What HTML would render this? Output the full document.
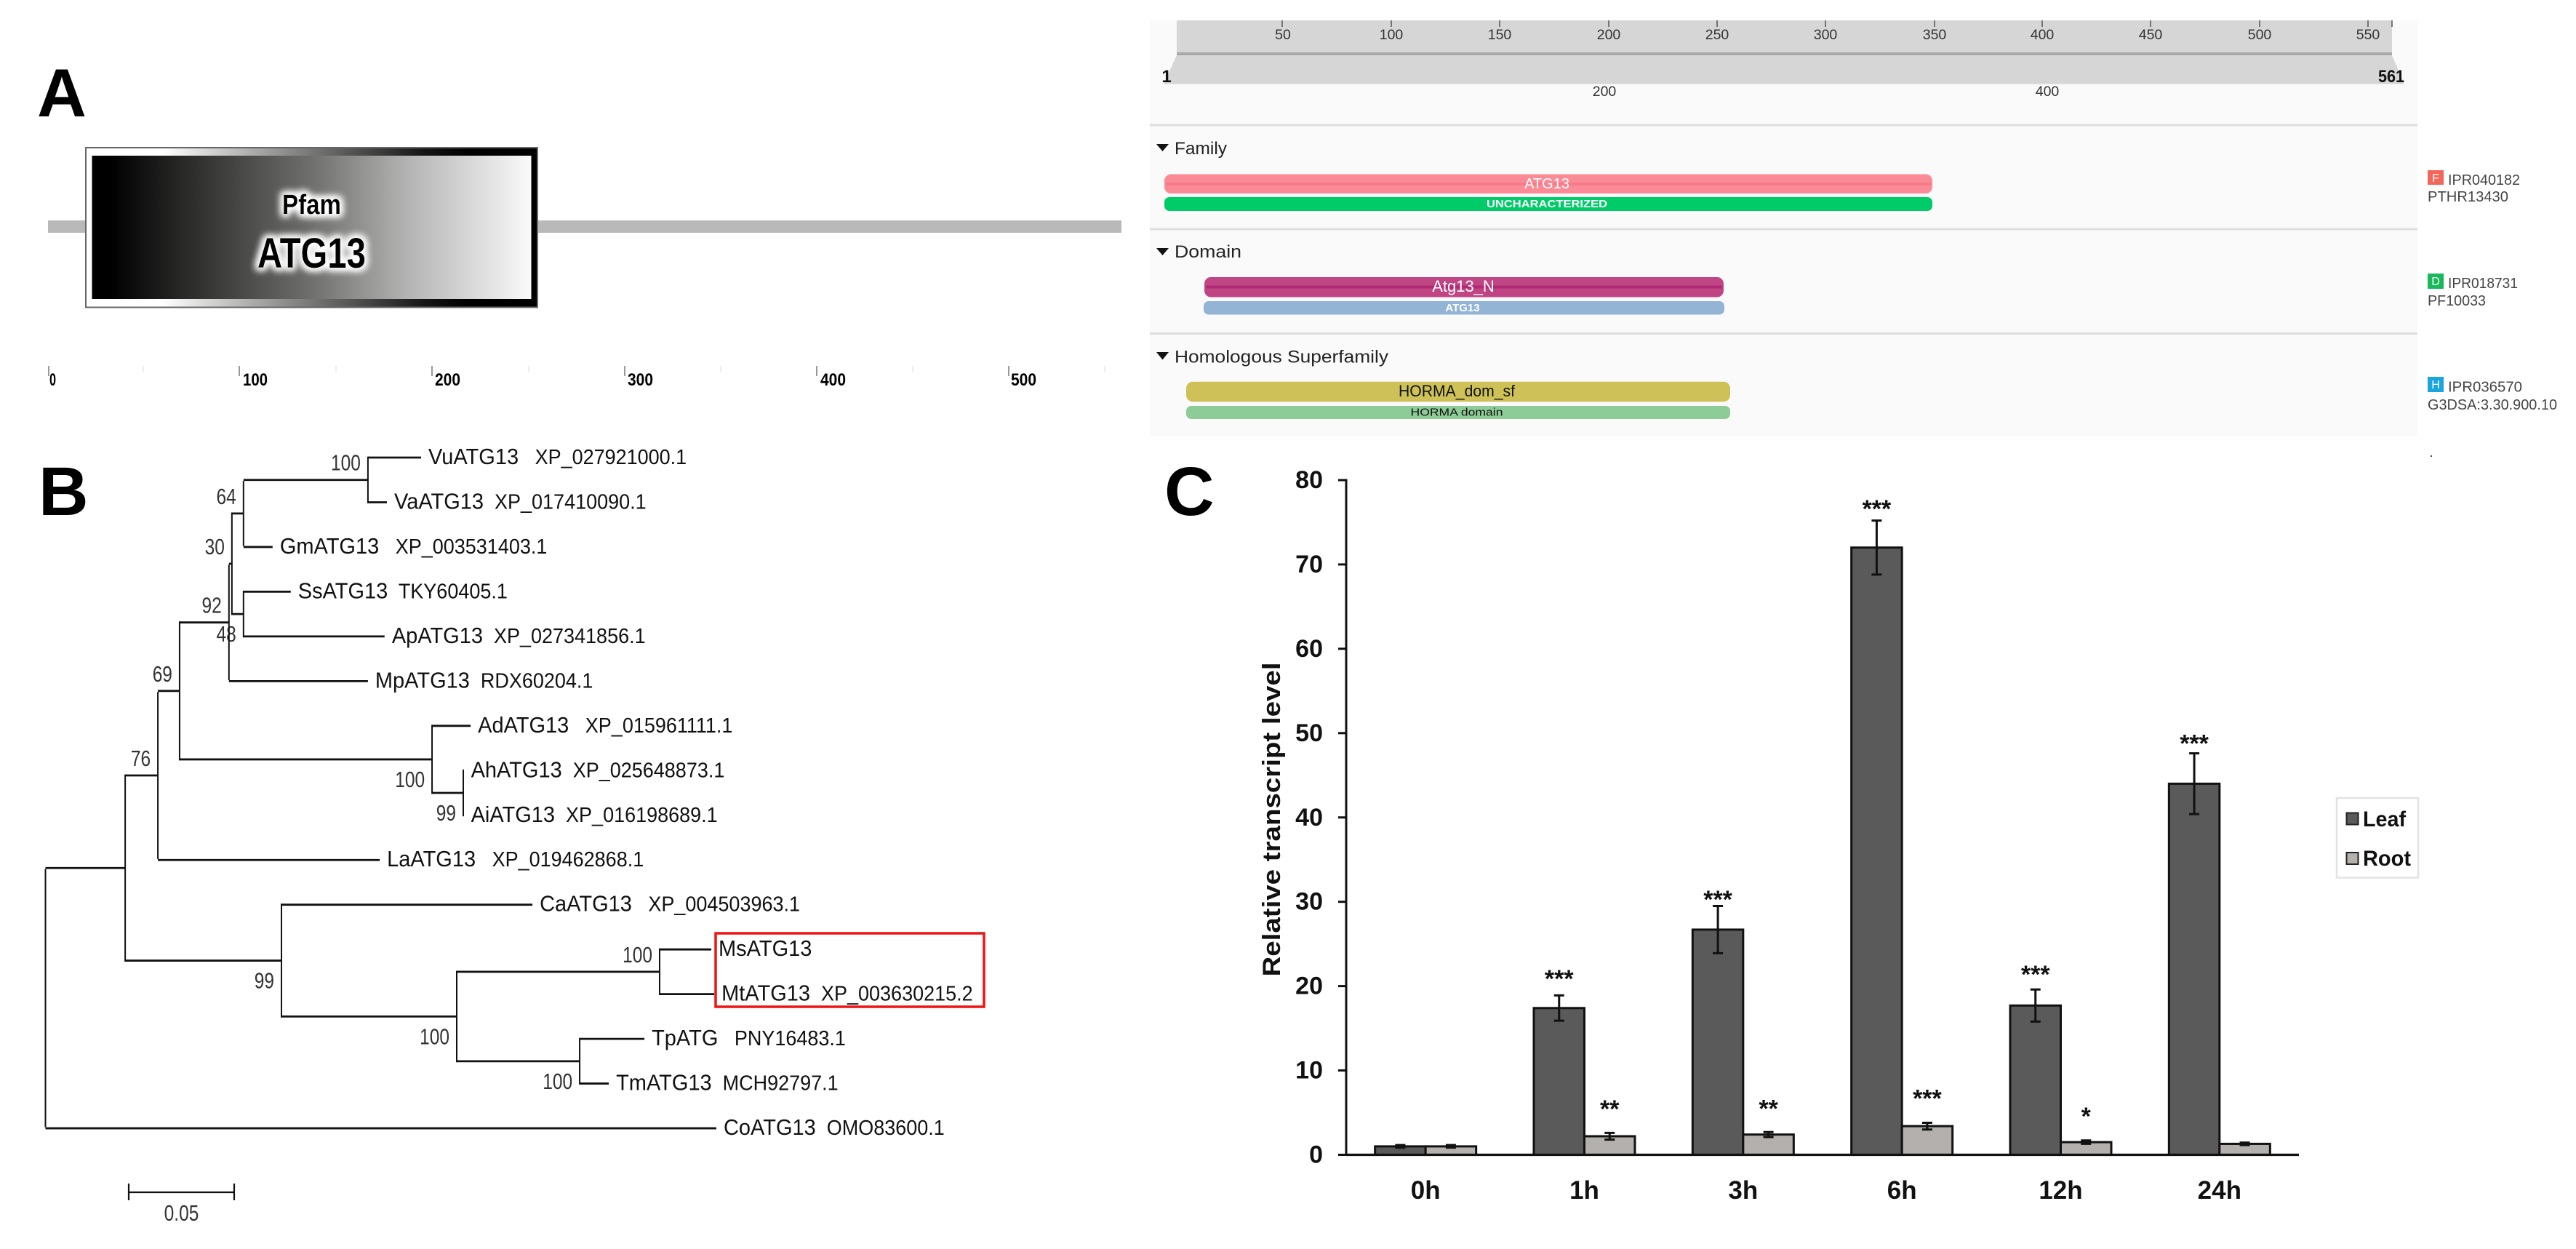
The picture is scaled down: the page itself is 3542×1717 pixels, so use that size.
<!DOCTYPE html>
<html lang="en">
<head>
<meta charset="utf-8">
<title>ATG13 domain structure, phylogeny and expression</title>
<style>
html,body{margin:0;padding:0;background:#fff;width:3542px;height:1717px;overflow:hidden}
svg{display:block}
text{font-family:"Liberation Sans",Arial,sans-serif}
.b{font-weight:bold}
.ipr{fill:#444;font-size:20px}
.rul{fill:#333;font-size:19.5px;text-anchor:middle}
.sec{fill:#222;font-size:24px}
.bt{fill:#fff;text-anchor:middle}
.bk{fill:#111;text-anchor:middle}
</style>
</head>
<body>
<svg xmlns="http://www.w3.org/2000/svg" width="3542" height="1717" viewBox="0 0 3542 1717">
<defs>
<linearGradient id="innerGrad" x1="0" x2="1" y1="0" y2="0">
<stop offset="0" stop-color="#000"/><stop offset="0.04" stop-color="#000"/><stop offset="0.5" stop-color="#6f6f6d"/><stop offset="0.72" stop-color="#b4b4b4"/><stop offset="1" stop-color="#fafafa"/>
</linearGradient>
<linearGradient id="frameGrad" x1="0" x2="1" y1="0" y2="0">
<stop offset="0" stop-color="#fff"/><stop offset="0.17" stop-color="#fff"/><stop offset="0.45" stop-color="#8a8a8a"/><stop offset="0.75" stop-color="#151515"/><stop offset="0.85" stop-color="#000"/><stop offset="1" stop-color="#000"/>
</linearGradient>
<filter id="glow" x="-30%" y="-50%" width="160%" height="200%">
<feMorphology in="SourceAlpha" operator="dilate" radius="3" result="d"/>
<feGaussianBlur in="d" stdDeviation="5" result="bl"/>
<feFlood flood-color="#fff"/>
<feComposite in2="bl" operator="in" result="w"/>
<feMerge><feMergeNode in="w"/><feMergeNode in="w"/><feMergeNode in="SourceGraphic"/></feMerge>
</filter>
</defs>

<text class="b" x="51" y="160" font-size="94" fill="#000">A</text>
<text class="b" x="53" y="708" font-size="95" fill="#000">B</text>
<text class="b" x="1601" y="708" font-size="95" fill="#000">C</text>

<!-- Panel A left: Pfam domain diagram -->
<g>
<rect x="66" y="303" width="1476" height="17" fill="#b9b9b9"/>
<rect x="118" y="203" width="621" height="219.5" fill="url(#frameGrad)" stroke="#666" stroke-width="2"/>
<rect x="126.5" y="214" width="604" height="197" fill="url(#innerGrad)"/>
<text class="b" x="388" y="294" font-size="38" textLength="81" lengthAdjust="spacingAndGlyphs" filter="url(#glow)" fill="#000">Pfam</text>
<text class="b" x="354" y="368" font-size="58" textLength="149" lengthAdjust="spacingAndGlyphs" filter="url(#glow)" fill="#000">ATG13</text>
<g stroke="#777" stroke-width="1.5">
<line x1="67" x2="67" y1="503" y2="517"/><line x1="329" x2="329" y1="503" y2="517"/><line x1="594" x2="594" y1="503" y2="517"/><line x1="859" x2="859" y1="503" y2="517"/><line x1="1123" x2="1123" y1="503" y2="517"/><line x1="1387" x2="1387" y1="503" y2="517"/>
</g>
<g stroke="#e6e6e6" stroke-width="1.5">
<line x1="197" x2="197" y1="503" y2="511"/><line x1="462" x2="462" y1="503" y2="511"/><line x1="727" x2="727" y1="503" y2="511"/><line x1="991" x2="991" y1="503" y2="511"/><line x1="1255" x2="1255" y1="503" y2="511"/><line x1="1519" x2="1519" y1="503" y2="511"/>
</g>
<g font-size="24" fill="#000" class="b">
<text x="68" y="530" textLength="9" lengthAdjust="spacingAndGlyphs">0</text>
<text x="334" y="530" textLength="34" lengthAdjust="spacingAndGlyphs">100</text>
<text x="598" y="530" textLength="35" lengthAdjust="spacingAndGlyphs">200</text>
<text x="863" y="530" textLength="35" lengthAdjust="spacingAndGlyphs">300</text>
<text x="1128" y="530" textLength="35" lengthAdjust="spacingAndGlyphs">400</text>
<text x="1390" y="530" textLength="35" lengthAdjust="spacingAndGlyphs">500</text>
</g>
</g>

<!-- Panel A right: InterPro view -->
<g>
<rect x="1581" y="28" width="1743" height="572" fill="#fafafa"/>
<rect x="1618" y="28" width="1671" height="45" fill="#d6d6d6"/>
<rect x="1618" y="72" width="1671" height="4" fill="#a9a9a9"/>
<polygon points="1618,76 3289,76 3306,115.5 1600,115.5" fill="#d6d6d6"/>
<g stroke="#555" stroke-width="1.5">
<line x1="1763" x2="1763" y1="28" y2="37"/><line x1="1913" x2="1913" y1="28" y2="37"/><line x1="2062" x2="2062" y1="28" y2="37"/><line x1="2212" x2="2212" y1="28" y2="37"/><line x1="2361" x2="2361" y1="28" y2="37"/><line x1="2510" x2="2510" y1="28" y2="37"/><line x1="2660" x2="2660" y1="28" y2="37"/><line x1="2808" x2="2808" y1="28" y2="37"/><line x1="2957" x2="2957" y1="28" y2="37"/><line x1="3107" x2="3107" y1="28" y2="37"/><line x1="3256" x2="3256" y1="28" y2="37"/><line x1="3289" x2="3289" y1="28" y2="37"/>
</g>
<g class="rul">
<text class="rul" x="1764" y="54">50</text><text class="rul" x="1913" y="54">100</text><text class="rul" x="2062" y="54">150</text><text class="rul" x="2212" y="54">200</text><text class="rul" x="2361" y="54">250</text><text class="rul" x="2510" y="54">300</text><text class="rul" x="2660" y="54">350</text><text class="rul" x="2808" y="54">400</text><text class="rul" x="2957" y="54">450</text><text class="rul" x="3107" y="54">500</text><text class="rul" x="3256" y="54">550</text>
</g>
<text class="b" x="1604" y="113" font-size="24" fill="#111" text-anchor="middle">1</text>
<text class="b" x="3288" y="113" font-size="24" fill="#111" text-anchor="middle" textLength="36" lengthAdjust="spacingAndGlyphs">561</text>
<text class="rul" x="2206" y="132">200</text>
<text class="rul" x="2815" y="132">400</text>

<rect x="1581" y="170.5" width="1743" height="3" fill="#dedede"/>
<rect x="1581" y="313.5" width="1743" height="3" fill="#dedede"/>
<rect x="1581" y="457" width="1743" height="3" fill="#dedede"/>

<polygon points="1590,198 1607,198 1598.5,208" fill="#111"/>
<text class="sec" x="1615" y="212" textLength="72" lengthAdjust="spacingAndGlyphs">Family</text>
<polygon points="1590,341 1607,341 1598.5,351" fill="#111"/>
<text class="sec" x="1615" y="354" textLength="92" lengthAdjust="spacingAndGlyphs">Domain</text>
<polygon points="1590,484 1607,484 1598.5,494.5" fill="#111"/>
<text class="sec" x="1615" y="498.5" textLength="294" lengthAdjust="spacingAndGlyphs">Homologous Superfamily</text>

<g>
<rect x="1601" y="239.5" width="1056" height="26.5" rx="9" fill="#fb8a97"/>
<rect x="1603" y="251" width="1052" height="4" fill="#f57b8a"/>
<text class="bt" x="2127" y="259" font-size="20">ATG13</text>
</g>
<g>
<rect x="1601" y="271" width="1056" height="19" rx="7" fill="#00cb69"/>
<text class="bt b" x="2127" y="285" font-size="15" textLength="166" lengthAdjust="spacingAndGlyphs">UNCHARACTERIZED</text>
</g>
<g>
<rect x="1656" y="381" width="714" height="27.5" rx="9" fill="#c04585"/>
<rect x="1658" y="392.5" width="710" height="4" fill="#ae2a72"/>
<text class="bt" x="2012" y="401" font-size="22">Atg13_N</text>
</g>
<g>
<rect x="1655" y="414" width="716" height="18.5" rx="7" fill="#93b4d4"/>
<text class="bt b" x="2011" y="428" font-size="15">ATG13</text>
</g>
<g>
<rect x="1631" y="524.7" width="748" height="27.5" rx="9" fill="#cdc158"/>
<text class="bk" x="2003" y="545" font-size="22" textLength="160" lengthAdjust="spacingAndGlyphs">HORMA_dom_sf</text>
</g>
<g>
<rect x="1631" y="558" width="748" height="18" rx="7" fill="#8dcc96"/>
<text class="bk" x="2003" y="571.5" font-size="15" textLength="127" lengthAdjust="spacingAndGlyphs">HORMA domain</text>
</g>

<g>
<rect x="3338" y="234" width="22" height="20" fill="#f4665a"/>
<text class="bt" x="3349" y="250" font-size="16">F</text>
<text class="ipr" x="3366" y="254" textLength="99" lengthAdjust="spacingAndGlyphs">IPR040182</text>
<text class="ipr" x="3338" y="277" textLength="111" lengthAdjust="spacingAndGlyphs">PTHR13430</text>
</g>
<g>
<rect x="3338" y="376" width="22" height="21" fill="#19b85a"/>
<text class="bt" x="3349" y="392" font-size="16">D</text>
<text class="ipr" x="3366" y="396" textLength="96" lengthAdjust="spacingAndGlyphs">IPR018731</text>
<text class="ipr" x="3338" y="420" textLength="80" lengthAdjust="spacingAndGlyphs">PF10033</text>
</g>
<g>
<rect x="3338" y="518" width="22" height="21" fill="#1ca4dc"/>
<text class="bt" x="3349" y="534" font-size="16">H</text>
<text class="ipr" x="3366" y="538.5" textLength="102" lengthAdjust="spacingAndGlyphs">IPR036570</text>
<text class="ipr" x="3338" y="563" textLength="178" lengthAdjust="spacingAndGlyphs">G3DSA:3.30.900.10</text>
</g>
<rect x="3342" y="626" width="2" height="2" fill="#444"/>
</g>

<!-- Panel B: tree -->
<g id="tree"></g>
<rect x="984" y="1283" width="369" height="101" fill="none" stroke="#ee1414" stroke-width="3.5"/>
<g id="tree-scale"></g>

<!-- Panel C: bar chart -->
<g id="chart"></g>
<text class="b" transform="translate(1760,1126.5) rotate(-90)" text-anchor="middle" font-size="34" textLength="432" lengthAdjust="spacingAndGlyphs" fill="#111">Relative transcript level</text>
<g>
<rect x="3213" y="1097" width="112" height="109.5" fill="#fff" stroke="#e2e2e2" stroke-width="2.5"/>
<rect x="3226.5" y="1117.5" width="16" height="16" fill="#5a5a5a" stroke="#222" stroke-width="2"/>
<text class="b" x="3249" y="1136" font-size="30" fill="#111" textLength="59" lengthAdjust="spacingAndGlyphs">Leaf</text>
<rect x="3226.5" y="1172" width="16" height="16" fill="#b3b0ae" stroke="#222" stroke-width="2"/>
<text class="b" x="3249" y="1190" font-size="30" fill="#111" textLength="66" lengthAdjust="spacingAndGlyphs">Root</text>
</g>
</svg>

<script>
// ---------- Panel C data ----------
const categories = ['0h', '1h', '3h', '6h', '12h', '24h'];
const leafValues = [1, 17.4, 26.7, 72, 17.7, 44];
const rootValues = [1, 2.2, 2.4, 3.4, 1.5, 1.3];
const leafErrors = [0.15, 1.5, 2.8, 3.2, 1.9, 3.6];
const rootErrors = [0.15, 0.4, 0.3, 0.4, 0.2, 0.15];
const leafStars = ['', '***', '***', '***', '***', '***'];
const rootStars = ['', '**', '**', '***', '*', ''];
const leafStarGap = [0, 2.2, 1.0, 1.6, 2.0, 1.4];
const rootStarGap = [0, 3.05, 3.0, 3.1, 3.1, 0];
const yTickValues = [0, 10, 20, 30, 40, 50, 60, 70, 80];

// ---------- Panel B data (children always listed before their parent) ----------
const taxa = ['VuATG13', 'VaATG13', 'GmATG13', 'SsATG13', 'ApATG13', 'MpATG13', 'AdATG13', 'AhATG13', 'AiATG13', 'LaATG13', 'CaATG13', 'MsATG13', 'MtATG13', 'TpATG', 'TmATG13', 'CoATG13'];
const accessions = ['   XP_027921000.1', '  XP_017410090.1', '   XP_003531403.1', '  TKY60405.1', '  XP_027341856.1', '  RDX60204.1', '   XP_015961111.1', '  XP_025648873.1', '  XP_016198689.1', '   XP_019462868.1', '   XP_004503963.1', '', '  XP_003630215.2', '   PNY16483.1', '  MCH92797.1', '  OMO83600.1'];
const nodeParent = [16, 16, 17, 18, 18, 20, 22, 21, 21, 24, 28, 25, 25, 26, 26, 30, 17, 19, 19, 20, 23, 22, 23, 24, 29, 27, 27, 28, 29, 30, -1];
const branchLength = [0.0252, 0.009, 0.0138, 0.0224, 0.0669, 0.0659, 0.0183, 0.0002, 0.0002, 0.1052, 0.119, 0.0245, 0.0259, 0.0307, 0.0138, 0.3181, 0.059, 0.0055, 0.0055, 0.0014, 0.0234, 0.0148, 0.1197, 0.0103, 0.0155, 0.0962, 0.0583, 0.0831, 0.0741, 0.0378, 0];
const nodeSupport = ['', '', '', '', '', '', '', '', '', '', '', '', '', '', '', '', '100', '64', '48', '30', '92', '99', '100', '69', '76', '100', '100', '100', '99', '', ''];
const supportBelow = [18, 21, 22, 26, 27, 28];
const scaleBarLength = 0.05;
const scaleBarLabel = '0.05';

// ---------- helpers ----------
const NS = 'http://www.w3.org/2000/svg';
function make(tag, attrs, parent) {
  const el = document.createElementNS(NS, tag);
  for (const k in attrs) el.setAttribute(k, attrs[k]);
  parent.appendChild(el);
  return el;
}

// ---------- tree axis functions ----------
const treeX = d => 62.5 + d * 2900;
const treeY = row => 629 + row * 61.47;

const treeGroup = document.getElementById('tree');
const depth = new Array(nodeParent.length).fill(0);
for (let i = nodeParent.length - 1; i >= 0; i--) {
  depth[i] = nodeParent[i] < 0 ? 0 : depth[nodeParent[i]] + branchLength[i];
}
const rowOf = new Array(nodeParent.length).fill(null);
const kids = nodeParent.map(() => []);
nodeParent.forEach((p, i) => { if (p >= 0) kids[p].push(i); });
for (let i = 0; i < nodeParent.length; i++) {
  rowOf[i] = i < taxa.length ? i : (rowOf[kids[i][0]] + rowOf[kids[i][1]]) / 2;
}
for (let i = 0; i < nodeParent.length; i++) {
  if (nodeParent[i] >= 0) {
    const branch = make('line', {x1: treeX(depth[nodeParent[i]]), x2: treeX(depth[i]), y1: treeY(rowOf[i]), y2: treeY(rowOf[i]), stroke: '#111', 'stroke-width': 2.8}, treeGroup);
    
    
  }
  if (i >= taxa.length) {
    const spine = make('line', {x1: treeX(depth[i]), x2: treeX(depth[i]), y1: treeY(rowOf[kids[i][0]]) - 1.4, y2: treeY(rowOf[kids[i][1]]) + 1.4, stroke: '#111', 'stroke-width': 2}, treeGroup);
    
    
    if (nodeSupport[i]) {
      const below = supportBelow.includes(i);
      const sx = treeX(depth[i]) - 10;
      const sy = treeY(rowOf[i]) + (below ? 38 : -13);
      const sup = make('text', {transform: 'translate(' + sx + ',' + sy + ') scale(1,1.25)', 'text-anchor': 'end', 'font-size': 24.5, fill: '#333'}, treeGroup);
      sup.textContent = nodeSupport[i];
      
      
    }
  }
}
taxa.forEach((name, i) => {
  const lx = treeX(depth[i]) + 10;
  const ly = treeY(i) + 9;
  const label = make('text', {transform: 'translate(' + lx + ',' + ly + ') scale(1,1.06)', fill: '#111', style: 'white-space:pre'}, treeGroup);
  
  
  const a = make('tspan', {'font-size': 29}, label);
  a.textContent = name;
  const b = make('tspan', {'font-size': 27}, label);
  b.textContent = accessions[i];
});

const scaleGroup = document.getElementById('tree-scale');
const sbPx = treeX(scaleBarLength) - treeX(0);
const sbLine = make('path', {d: 'M177 1627V1650M177 1639H' + (177 + sbPx) + 'M' + (177 + sbPx) + ' 1627V1650', stroke: '#111', 'stroke-width': 2.2, fill: 'none'}, scaleGroup);


const sbText = make('text', {transform: 'translate(' + (177 + sbPx / 2) + ',1678) scale(1,1.25)', 'text-anchor': 'middle', 'font-size': 24.5, fill: '#333'}, scaleGroup);
sbText.textContent = scaleBarLabel;



// ---------- bar chart axis functions ----------
const chart = document.getElementById('chart');
const plotLeft = 1851, plotRight = 3161, plotTop = 660, plotBottom = 1587.5, yMax = 80;
const yScale = v => plotBottom - v / yMax * (plotBottom - plotTop);
const bandWidth = (plotRight - plotLeft) / categories.length;
const xCenter = i => plotLeft + bandWidth * (i + 0.5);
const barWidth = 69.5;

function drawBar(x, value, fill) {
  const r = make('rect', {x: x, y: yScale(value), width: barWidth, height: plotBottom - yScale(value), fill: fill, stroke: '#111', 'stroke-width': 3}, chart);
  return r;
}
function drawError(cx, value, err) {
  const top = yScale(value + err), bot = yScale(Math.max(value - err, 0));
  const e = make('path', {d: 'M' + cx + ' ' + top + 'V' + bot + 'M' + (cx - 7) + ' ' + top + 'H' + (cx + 7) + 'M' + (cx - 7) + ' ' + bot + 'H' + (cx + 7), stroke: '#111', 'stroke-width': 3, fill: 'none'}, chart);
  return e;
}
function drawStars(cx, level, str) {
  const s = make('text', {x: cx, y: yScale(level) + 14, 'text-anchor': 'middle', 'font-size': 34, 'font-weight': 'bold', fill: '#111'}, chart);
  s.textContent = str;
  return s;
}

categories.forEach((cat, i) => {
  const c = xCenter(i);
  const leafBar = drawBar(c - barWidth, leafValues[i], '#5a5a5a');
  
  
  const rootBar = drawBar(c, rootValues[i], '#b3b0ae');
  
  
  const leafErr = drawError(c - barWidth / 2, leafValues[i], leafErrors[i]);
  
  
  const rootErr = drawError(c + barWidth / 2, rootValues[i], rootErrors[i]);
  
  
  if (leafStars[i]) {
    const st = drawStars(c - barWidth / 2, leafValues[i] + leafErrors[i] + leafStarGap[i], leafStars[i]);
    
    
  }
  if (rootStars[i]) {
    const st2 = drawStars(c + barWidth / 2, rootValues[i] + rootErrors[i] + rootStarGap[i], rootStars[i]);
    
    
  }
  const xl = make('text', {x: c, y: 1648, 'text-anchor': 'middle', 'font-size': 35, 'font-weight': 'bold', fill: '#111'}, chart);
  xl.textContent = cat;
  
  
});

yTickValues.forEach(v => {
  const t = make('line', {x1: plotLeft - 11, x2: plotLeft, y1: yScale(v), y2: yScale(v), stroke: '#111', 'stroke-width': 3}, chart);
  
  
  const l = make('text', {x: 1819, y: yScale(v) + 11, 'text-anchor': 'end', 'font-size': 34, 'font-weight': 'bold', fill: '#111'}, chart);
  l.textContent = String(v);
  
  
});

const yAxis = make('line', {x1: plotLeft, x2: plotLeft, y1: plotTop - 1.5, y2: plotBottom + 1.5, stroke: '#111', 'stroke-width': 3}, chart);


const xAxis = make('line', {x1: plotLeft, x2: plotRight, y1: plotBottom, y2: plotBottom, stroke: '#111', 'stroke-width': 3.2}, chart);


</script>
</body>
</html>
